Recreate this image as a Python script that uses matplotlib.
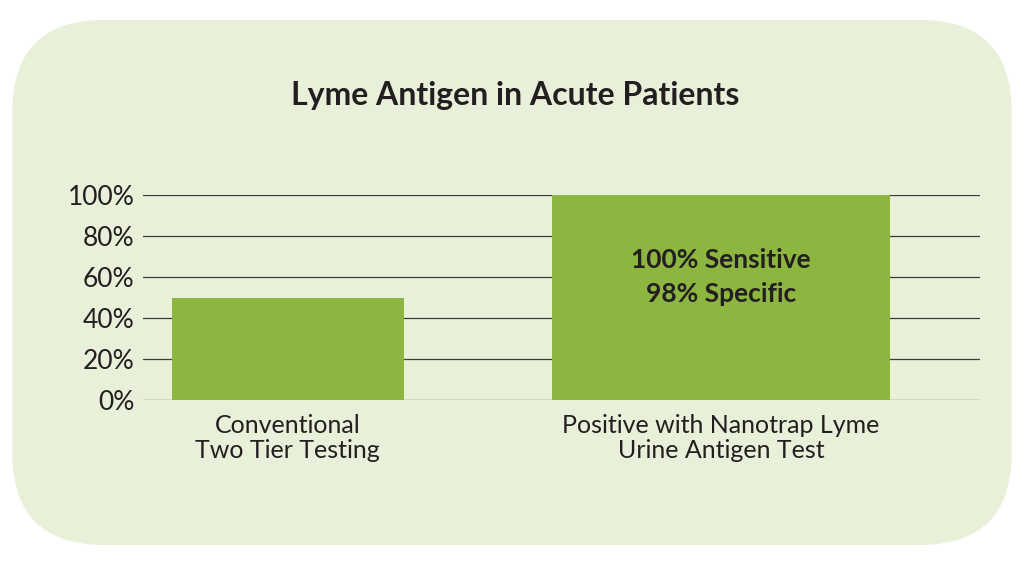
import matplotlib.pyplot as plt
from matplotlib.patches import FancyBboxPatch

plt.rcParams['font.family'] = ['Lato', 'DejaVu Sans']

categories = ["Conventional\nTwo Tier Testing",
              "Positive with Nanotrap Lyme\nUrine Antigen Test"]
values = [50, 100]
ticks = [0, 20, 40, 60, 80, 100]
tick_labels = [f"{t}%" for t in ticks]

# layout only
centers = [0.173, 0.691]
widths = [0.277, 0.404]
bar_color = "#8cb63f"
bg_color = "#e9f0da"

fig = plt.figure(figsize=(10.24, 5.61), dpi=100)
fig.patch.set_facecolor("white")
bg = FancyBboxPatch((0.012 + 0.06, 0.028 + 0.1 + 0.01), 0.976 - 0.12, 0.937 - 0.2 - 0.02,
                    boxstyle="round,pad=0.06,rounding_size=0.09",
                    transform=fig.transFigure, facecolor=bg_color,
                    edgecolor="none", zorder=0, mutation_aspect=1024 / 561)
fig.patches.append(bg)

ax = fig.add_axes([0.1396, 0.287, 0.817, 0.365])
ax.set_zorder(2)
ax.set_facecolor("none")
ax.bar(centers, values, width=widths, color=bar_color, zorder=2)
ax.set_xlim(0, 1)
ax.set_ylim(0, 100)
ax.set_yticks(ticks)
ax.set_yticklabels(tick_labels, fontsize=19, color="#231f20")
ax.set_xticks(centers)
ax.set_xticklabels(categories, fontsize=18, color="#231f20", linespacing=1.1)
ax.tick_params(length=0, pad=6)
ax.tick_params(axis="x", pad=10)
for t in ticks:
    ax.axhline(t, color="#3a3a3a", lw=0.9, zorder=1)
for s in ax.spines.values():
    s.set_visible(False)

ax.text(centers[1], 60, "100% Sensitive\n98% Specific", ha="center", va="center",
        fontsize=19, fontweight="bold", color="#231f20", linespacing=1.5, zorder=3)

fig.text(0.503, 0.830, "Lyme Antigen in Acute Patients", ha="center", va="center",
         fontsize=23, fontweight="bold", color="#231f20", zorder=3)

fig.savefig("out.png", dpi=100)
